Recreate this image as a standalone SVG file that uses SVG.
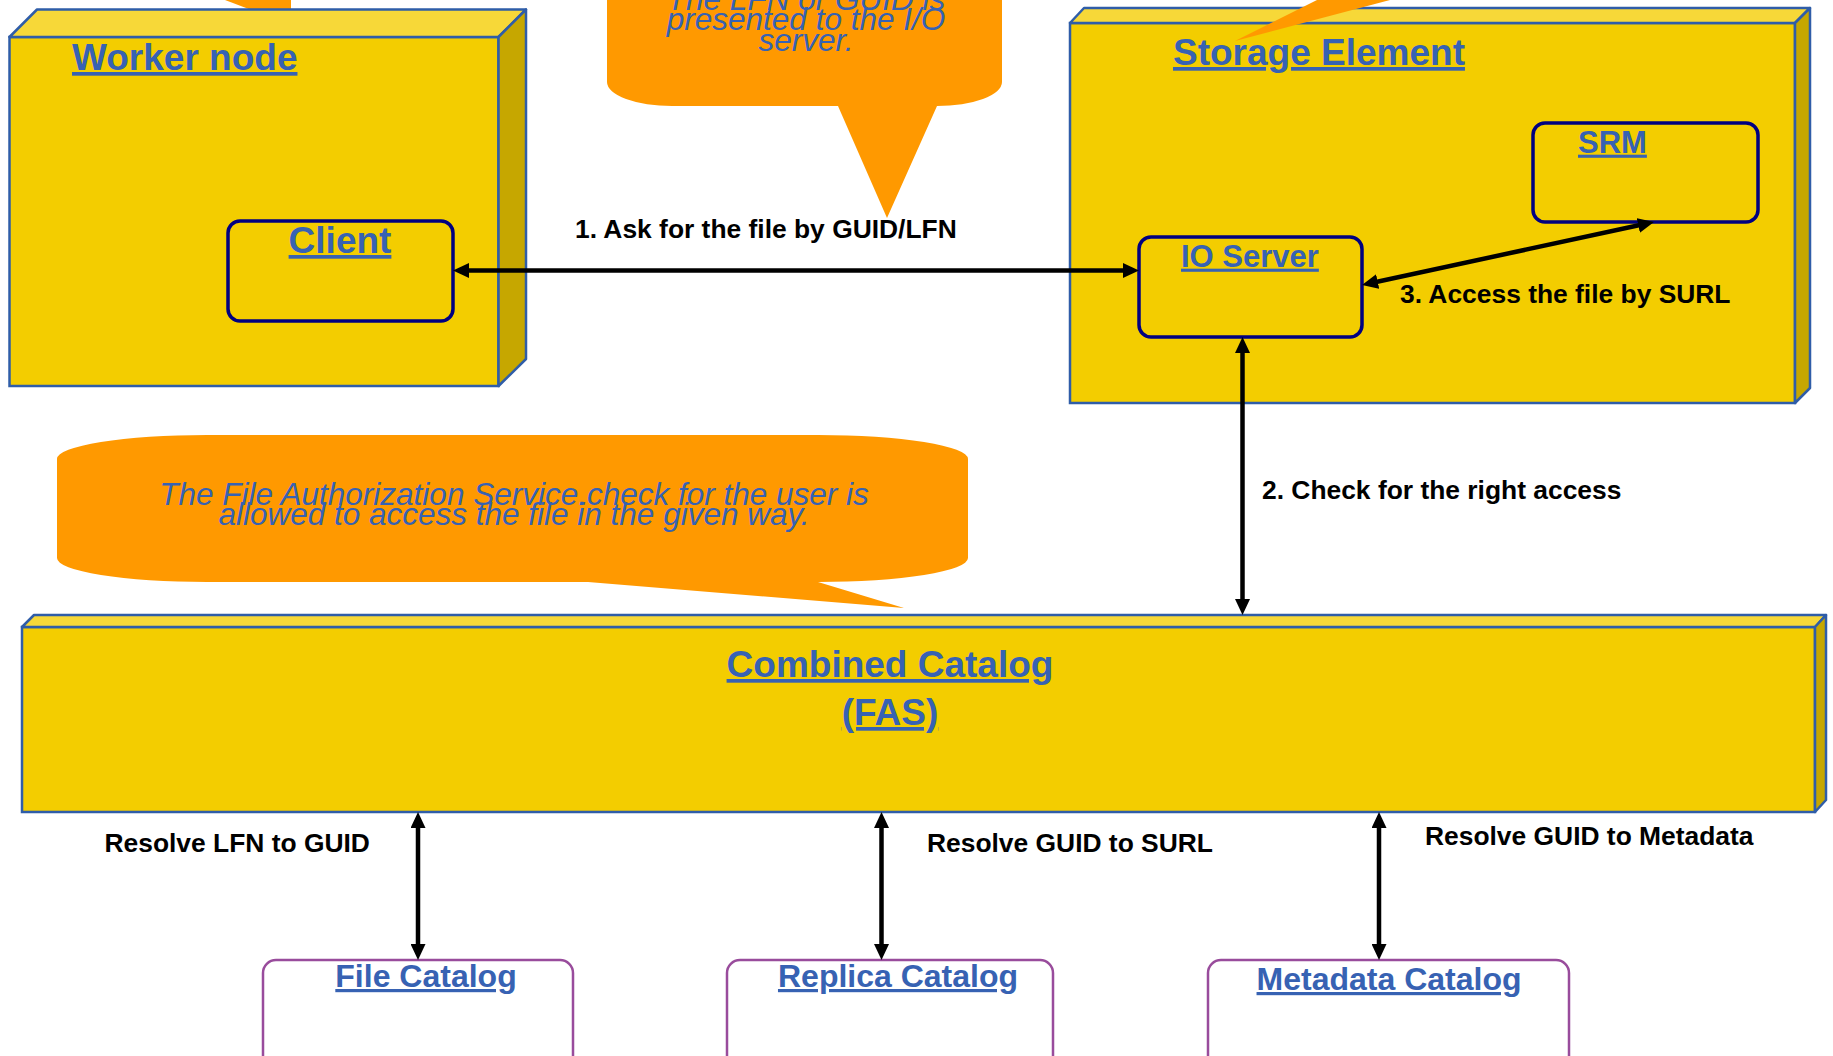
<svg xmlns="http://www.w3.org/2000/svg" width="1833" height="1056" viewBox="0 0 1833 1056">
<defs>
<style>
.front{fill:#F3CD00;stroke:#2F5DA8;stroke-width:2.5}
.top{fill:#F7D838;stroke:#2F5DA8;stroke-width:2.5;stroke-linejoin:round}
.side{fill:#C6A700;stroke:#2F5DA8;stroke-width:2.5;stroke-linejoin:round}
.comp{fill:none;stroke:#000080;stroke-width:3.5}
.cat{fill:#FFFFFF;stroke:#994C9C;stroke-width:2.5}
.title{font-family:"Liberation Sans",Arial,sans-serif;font-weight:bold;fill:#3762B3;text-decoration:underline}
.lbl{font-family:"Liberation Sans",Arial,sans-serif;font-weight:bold;fill:#000000;font-size:26.4px}
.note{font-family:"Liberation Sans",Arial,sans-serif;font-style:italic;fill:#3762B3;font-size:31.5px;text-anchor:middle}
.callout{fill:#FF9900}
.conn{fill:none;stroke:#000000;stroke-width:4.5;marker-start:url(#ah);marker-end:url(#ah)}
</style>
<marker id="ah" viewBox="0 0 16 15" refX="10" refY="7.5" markerWidth="16" markerHeight="15" markerUnits="userSpaceOnUse" orient="auto-start-reverse">
<path d="M0,0 L16,7.5 L0,15 Z" fill="#000000"/>
</marker>
</defs>
<rect width="1833" height="1056" fill="#FFFFFF"/>

<g id="callout-top-left-tail">
<polygon class="callout" points="225,0 291,0 291,14 262,14"/>
</g>

<g id="worker-node">
<rect class="front" x="9.5" y="37" width="489" height="349"/>
<polygon class="top" points="9.5,37 37,9.5 526,9.5 498.5,37"/>
<polygon class="side" points="498.5,37 526,9.5 526,359 498.5,386"/>
<text class="title" x="72" y="70" font-size="37">Worker node</text>
</g>

<g id="client">
<rect class="comp" x="228" y="221" width="225" height="100" rx="12"/>
<text class="title" x="340" y="253" font-size="37" text-anchor="middle">Client</text>
</g>

<g id="storage-element">
<rect class="front" x="1070" y="23" width="725" height="380"/>
<polygon class="top" points="1070,23 1084,8 1810,8 1795,23"/>
<polygon class="side" points="1795,23 1810,8 1810,388 1795,403"/>
<text class="title" x="1173" y="65" font-size="37">Storage Element</text>
</g>

<g id="callout-storage-tail">
<polygon class="callout" points="1235,41 1317,0 1390,0"/>
</g>

<g id="srm">
<rect class="comp" x="1533" y="123" width="225" height="99" rx="12"/>
<text class="title" x="1578" y="152.7" font-size="31">SRM</text>
</g>

<g id="io-server">
<rect class="comp" x="1139" y="237" width="223" height="100" rx="12"/>
<text class="title" x="1181" y="266.7" font-size="31">IO Server</text>
</g>

<g id="callout-io">
<path class="callout" d="M607,-40 H1002 V82 A65,24 0 0 1 937,106 L887,218 L838,106 H672 A65,24 0 0 1 607,82 Z"/>
<text class="note" x="806" y="10">The LFN or GUID is</text>
<text class="note" x="806" y="30">presented to the I/O</text>
<text class="note" x="806" y="50.7">server.</text>
</g>

<g id="callout-fas">
<path class="callout" d="M207,435 H818 A150,24 0 0 1 968,459 V558 A150,24 0 0 1 818,582 L904,608 L588,582 H207 A150,24 0 0 1 57,558 V459 A150,24 0 0 1 207,435 Z"/>
<text class="note" x="514" y="505">The File Authorization Service.check for the user is</text>
<text class="note" x="514" y="525">allowed to access the file in the given way.</text>
</g>

<g id="combined-catalog">
<rect class="front" x="22" y="627" width="1793" height="185"/>
<polygon class="top" points="22,627 34,615 1826,615 1815,627"/>
<polygon class="side" points="1815,627 1826,615 1826,800 1815,812"/>
<text class="title" x="890" y="677" font-size="37" text-anchor="middle">Combined Catalog</text>
<text class="title" x="890" y="725" font-size="37" text-anchor="middle">(FAS)</text>
</g>

<g id="file-catalog">
<rect class="cat" x="263" y="960" width="310" height="130" rx="13"/>
<text class="title" x="426" y="987" font-size="32" text-anchor="middle">File Catalog</text>
</g>

<g id="replica-catalog">
<rect class="cat" x="727" y="960" width="326" height="130" rx="13"/>
<text class="title" x="898" y="987" font-size="32" text-anchor="middle">Replica Catalog</text>
</g>

<g id="metadata-catalog">
<rect class="cat" x="1208" y="960" width="361" height="130" rx="13"/>
<text class="title" x="1389" y="990" font-size="32" text-anchor="middle">Metadata Catalog</text>
</g>

<g id="connectors">
<line class="conn" x1="459" y1="270.5" x2="1133" y2="270.5"/>
<line class="conn" x1="1242.5" y1="343" x2="1242.5" y2="609"/>
<line class="conn" x1="1367.9" y1="283.7" x2="1648.1" y2="223.3"/>
<line class="conn" x1="418" y1="818" x2="418" y2="954"/>
<line class="conn" x1="881.5" y1="818" x2="881.5" y2="954"/>
<line class="conn" x1="1379" y1="818" x2="1379" y2="954"/>
<text class="lbl" x="575" y="238">1. Ask for the file by GUID/LFN</text>
<text class="lbl" x="1262" y="499">2. Check for the right access</text>
<text class="lbl" x="1400" y="303">3. Access the file by SURL</text>
<text class="lbl" x="104.5" y="852">Resolve LFN to GUID</text>
<text class="lbl" x="927" y="852">Resolve GUID to SURL</text>
<text class="lbl" x="1425" y="845">Resolve GUID to Metadata</text>
</g>
</svg>
